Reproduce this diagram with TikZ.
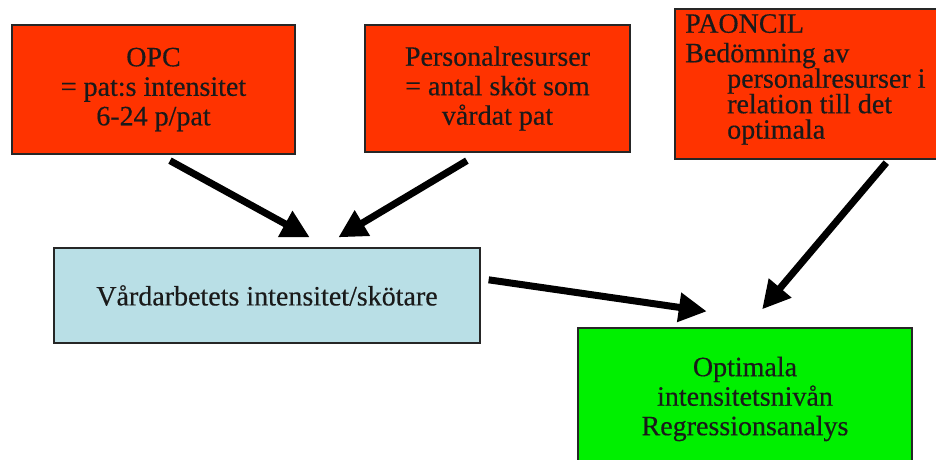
\documentclass[tikz,border=0pt]{standalone}
\usepackage{fontspec}
\setmainfont{Liberation Serif}[FakeBold=0.4]
\usetikzlibrary{arrows.meta,calc}
\definecolor{boxred}{HTML}{FF3300}
\definecolor{boxblue}{HTML}{B9DFE6}
\definecolor{boxgreen}{HTML}{00F000}
\definecolor{edgecol}{HTML}{262626}
\definecolor{ink}{HTML}{1A1A1A}
\begin{document}
\begin{tikzpicture}[x=1pt,y=-1pt,
  box/.style={draw=edgecol, line width=1.3pt, inner sep=0pt, align=center, text=ink,
    font=\fontsize{28}{29.5}\selectfont},
  txt/.style={inner sep=0pt, align=left, text=ink, font=\fontsize{28}{29.5}\selectfont},
  arr/.style={line width=7pt, -{Triangle[length=28pt,width=28pt]}, black},
]
\useasboundingbox[fill=white] (0,0) rectangle (936,459);

\node[box, fill=boxred, minimum width=283pt, minimum height=129pt] (opc) at (153.5,89.5)
  {OPC\\= pat:s intensitet\\6-24 p/pat};
\node[box, fill=boxred, minimum width=265pt, minimum height=127pt] (pers) at (497.5,88.5)
  {Personalresurser\\= antal sköt som\\vårdat pat};
\node[box, fill=boxred, minimum width=262pt, minimum height=150pt] (pao) at (806,84) {};
\node[txt, anchor=north west] (paotext) at (685,14)
  {PAONCIL\\Bedömning av\\[-4pt]\hspace*{42pt}personalresurser i\\[-4pt]\hspace*{42pt}relation till det\\[-4pt]\hspace*{42pt}optimala};
\node[box, fill=boxblue, minimum width=426pt, minimum height=95pt] (vard) at (267,295.5)
  {Vårdarbetets intensitet/skötare};
\node[box, fill=boxgreen, minimum width=334pt, minimum height=142pt] (opt) at (745,399)
  {Optimala\\intensitetsnivån\\Regressionsanalys};

\draw[arr] ($(opc.south west)!0.558!(opc.south east)+(0,6)$) -- ($(vard.north west)!0.60!(vard.north east)+(0,-10)$);
\draw[arr] ($(pers.south west)!0.385!(pers.south east)+(0,8)$) -- ($(vard.north west)!0.667!(vard.north east)+(0,-10)$);
\draw[arr] ($(pao.south west)!0.805!(pao.south east)+(0,3)$) -- ($(opt.north west)!0.551!(opt.north east)+(0,-18)$);
\draw[arr] ($(vard.north east)!0.337!(vard.south east)+(8,0)$) -- ($(opt.north west)!0.386!(opt.north east)+(0,-16)$);
\end{tikzpicture}
\end{document}
